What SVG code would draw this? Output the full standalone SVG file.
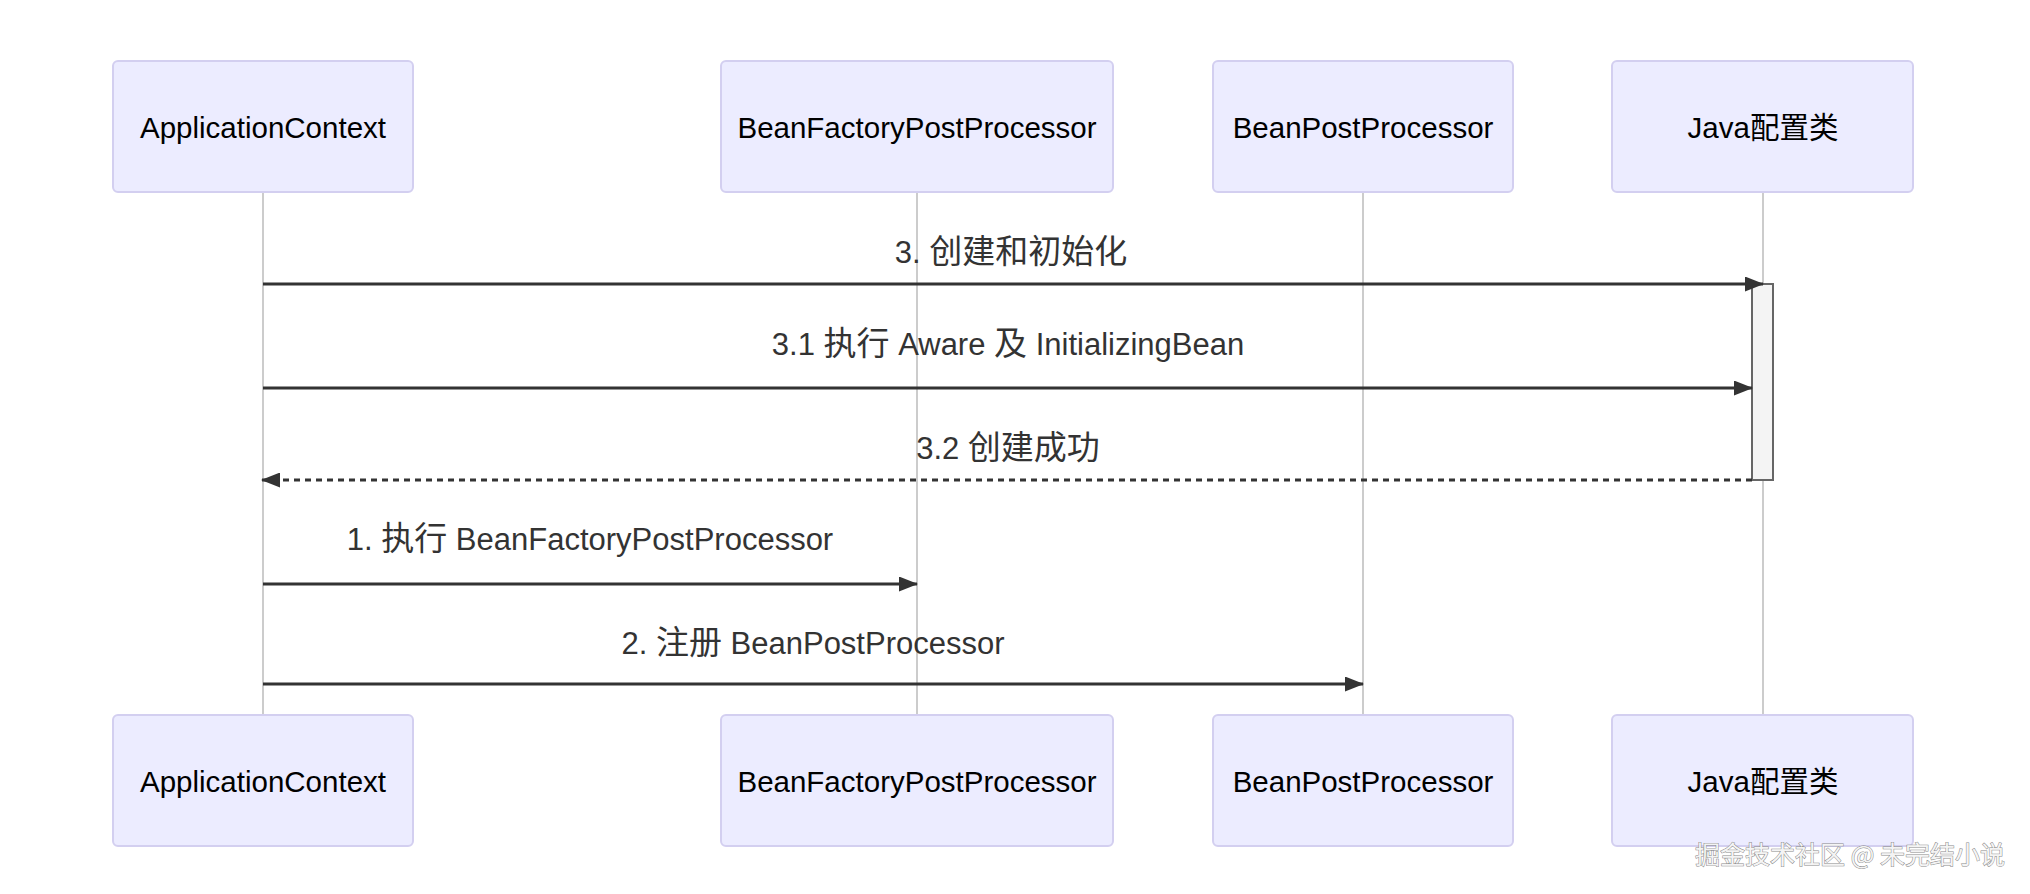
<svg xmlns="http://www.w3.org/2000/svg" width="2030" height="894" viewBox="0 0 2030 894">
<defs>
<style>
.actor{fill:#ECECFF;stroke:#D3CFF0;stroke-width:2}
.atext{font-family:"Liberation Sans","Noto Sans CJK SC",sans-serif;font-size:29.5px;fill:#000;text-anchor:middle;dominant-baseline:central}
.mtext{font-family:"Liberation Sans","Noto Sans CJK SC",sans-serif;font-size:31px;fill:#333;text-anchor:middle}
.cjk{font-size:33px}
.life{stroke:#bbb;stroke-width:1.5}
.msg{stroke:#333;stroke-width:3;fill:none}
.dash{stroke-dasharray:6,5}
.act{fill:#f4f4f4;stroke:#666;stroke-width:2}
.wm{font-family:"Noto Sans CJK SC",sans-serif;font-size:25px;fill:#f4f4f4;stroke:#888;stroke-width:1;paint-order:stroke;text-anchor:middle}
</style>
<marker id="ah" markerWidth="19" markerHeight="15" refX="18" refY="7.5" orient="auto" markerUnits="userSpaceOnUse">
<path d="M0,0 L19,7.5 L0,15 Z" fill="#333"/>
</marker>
</defs>
<rect width="2030" height="894" fill="#fff"/>
<g id="lifelines">
<line class="life" x1="263" y1="192" x2="263" y2="715"/>
<line class="life" x1="917" y1="192" x2="917" y2="715"/>
<line class="life" x1="1363" y1="192" x2="1363" y2="715"/>
<line class="life" x1="1763" y1="192" x2="1763" y2="715"/>
</g>
<g id="actor-appctx-top"><rect class="actor" x="113" y="61" width="300" height="131" rx="5"/><text class="atext" x="263" y="127">ApplicationContext</text></g>
<g id="actor-bfpp-top"><rect class="actor" x="721" y="61" width="392" height="131" rx="5"/><text class="atext" x="917" y="127">BeanFactoryPostProcessor</text></g>
<g id="actor-bpp-top"><rect class="actor" x="1213" y="61" width="300" height="131" rx="5"/><text class="atext" x="1363" y="127">BeanPostProcessor</text></g>
<g id="actor-java-top"><rect class="actor" x="1612" y="61" width="301" height="131" rx="5"/><text class="atext" x="1763" y="127">Java配置类</text></g>
<g id="actor-appctx-bottom"><rect class="actor" x="113" y="715" width="300" height="131" rx="5"/><text class="atext" x="263" y="781">ApplicationContext</text></g>
<g id="actor-bfpp-bottom"><rect class="actor" x="721" y="715" width="392" height="131" rx="5"/><text class="atext" x="917" y="781">BeanFactoryPostProcessor</text></g>
<g id="actor-bpp-bottom"><rect class="actor" x="1213" y="715" width="300" height="131" rx="5"/><text class="atext" x="1363" y="781">BeanPostProcessor</text></g>
<g id="actor-java-bottom"><rect class="actor" x="1612" y="715" width="301" height="131" rx="5"/><text class="atext" x="1763" y="781">Java配置类</text></g>
<g id="activation"><rect class="act" x="1752" y="284" width="21" height="196"/></g>
<g id="connectors">
<line class="msg" x1="263" y1="284" x2="1763" y2="284" marker-end="url(#ah)"/>
<line class="msg" x1="263" y1="388" x2="1752" y2="388" marker-end="url(#ah)"/>
<line class="msg dash" x1="1752" y1="480" x2="262" y2="480" marker-end="url(#ah)"/>
<line class="msg" x1="263" y1="584" x2="917" y2="584" marker-end="url(#ah)"/>
<line class="msg" x1="263" y1="684" x2="1363" y2="684" marker-end="url(#ah)"/>
</g>
<g id="labels">
<text class="mtext" x="1011" y="263">3. <tspan class="cjk">创建和初始化</tspan></text>
<text class="mtext" x="1008" y="355">3.1 <tspan class="cjk">执行</tspan> Aware <tspan class="cjk">及</tspan> InitializingBean</text>
<text class="mtext" x="1008" y="459">3.2 <tspan class="cjk">创建成功</tspan></text>
<text class="mtext" x="590" y="550">1. <tspan class="cjk">执行</tspan> BeanFactoryPostProcessor</text>
<text class="mtext" x="813" y="654">2. <tspan class="cjk">注册</tspan> BeanPostProcessor</text>
</g>
<text class="wm" x="1850" y="864">掘金技术社区 @ 未完结小说</text>
</svg>
